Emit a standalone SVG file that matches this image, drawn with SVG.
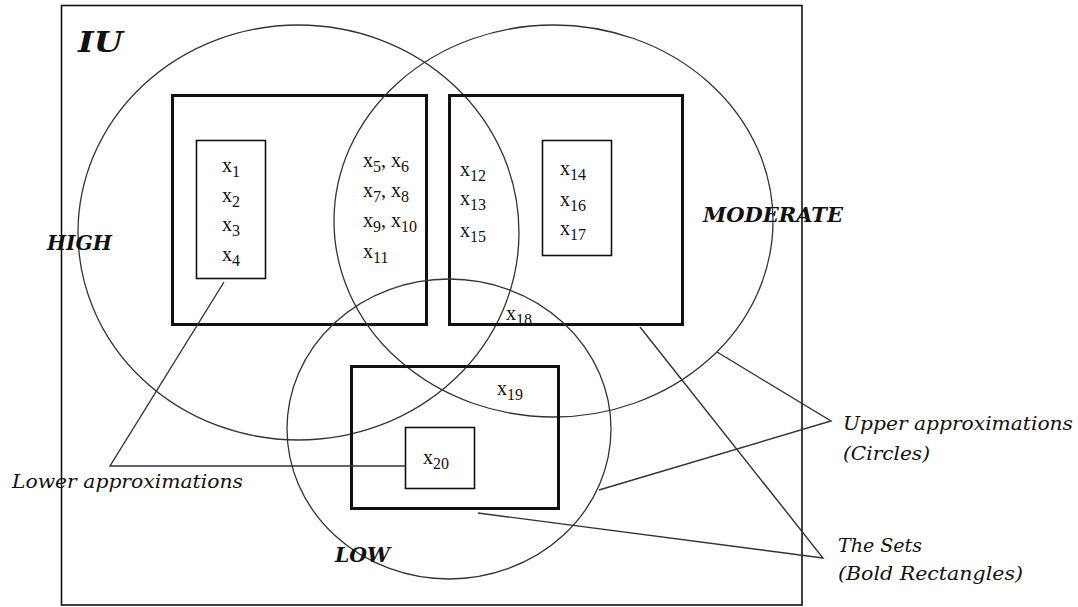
<svg xmlns="http://www.w3.org/2000/svg" width="1078" height="607" viewBox="0 0 1078 607">
<style>
  .bg { fill: #ffffff; }
  .universe { fill: none; stroke: #111; stroke-width: 1.6; }
  .upper { fill: none; stroke: #333; stroke-width: 1.3; }
  .set { fill: none; stroke: #111; stroke-width: 3; }
  .lower { fill: none; stroke: #111; stroke-width: 1.6; }
  .conn { fill: none; stroke: #333; stroke-width: 1.4; }
  .el { font-family: "Liberation Serif", "Times New Roman", serif; font-size: 20px; fill: #111; }
  .sub { font-size: 16px; }
  .big { font-family: "DejaVu Serif", "Liberation Serif", serif; font-weight: bold; font-style: italic; fill: #111; }
  .note { font-family: "DejaVu Serif", "Liberation Serif", serif; font-style: italic; font-size: 19px; fill: #111; }
</style>
<rect class="bg" x="0" y="0" width="1078" height="607"/>

<g id="universe">
  <rect class="universe" x="61.5" y="5.5" width="740.5" height="599.5"/>
  <text class="big" x="78" y="52" font-size="28" textLength="45" lengthAdjust="spacingAndGlyphs">IU</text>
</g>

<g id="high">
  <ellipse class="upper" cx="298.5" cy="232.5" rx="220.5" ry="207.5"/>
  <rect class="set" x="172.5" y="95.5" width="254" height="229"/>
  <text class="big" x="47" y="250" font-size="20" textLength="65" lengthAdjust="spacingAndGlyphs">HIGH</text>
</g>

<g id="high-lower">
  <rect class="lower" x="196.5" y="140.5" width="69" height="138"/>
  <text class="el" x="222" y="172">x<tspan class="sub" dy="5">1</tspan></text>
  <text class="el" x="222" y="202">x<tspan class="sub" dy="5">2</tspan></text>
  <text class="el" x="222" y="231">x<tspan class="sub" dy="5">3</tspan></text>
  <text class="el" x="222" y="261">x<tspan class="sub" dy="5">4</tspan></text>
</g>

<g id="high-boundary">
  <text class="el" x="363" y="167">x<tspan class="sub" dy="5">5</tspan><tspan dy="-5">, x</tspan><tspan class="sub" dy="5">6</tspan></text>
  <text class="el" x="363" y="197">x<tspan class="sub" dy="5">7</tspan><tspan dy="-5">, x</tspan><tspan class="sub" dy="5">8</tspan></text>
  <text class="el" x="363" y="227">x<tspan class="sub" dy="5">9</tspan><tspan dy="-5">, x</tspan><tspan class="sub" dy="5">10</tspan></text>
  <text class="el" x="363" y="258">x<tspan class="sub" dy="5">11</tspan></text>
</g>

<g id="moderate">
  <ellipse class="upper" cx="553.5" cy="221" rx="219.5" ry="196"/>
  <rect class="set" x="449.5" y="95.5" width="233" height="229"/>
  <text class="big" x="703" y="222" font-size="21" textLength="140" lengthAdjust="spacingAndGlyphs">MODERATE</text>
</g>

<g id="moderate-lower">
  <rect class="lower" x="542.5" y="140.5" width="69" height="115"/>
  <text class="el" x="560" y="175">x<tspan class="sub" dy="5">14</tspan></text>
  <text class="el" x="560" y="206">x<tspan class="sub" dy="5">16</tspan></text>
  <text class="el" x="560" y="235">x<tspan class="sub" dy="5">17</tspan></text>
</g>

<g id="moderate-boundary">
  <text class="el" x="460" y="176">x<tspan class="sub" dy="5">12</tspan></text>
  <text class="el" x="460" y="205">x<tspan class="sub" dy="5">13</tspan></text>
  <text class="el" x="460" y="237">x<tspan class="sub" dy="5">15</tspan></text>
  <text class="el" x="506" y="320">x<tspan class="sub" dy="5">18</tspan></text>
</g>

<g id="low">
  <ellipse class="upper" cx="449" cy="429" rx="162" ry="150"/>
  <rect class="set" x="351.5" y="366.5" width="207" height="142"/>
  <text class="big" x="335" y="562" font-size="20" textLength="55" lengthAdjust="spacingAndGlyphs">LOW</text>
  <text class="el" x="497" y="395">x<tspan class="sub" dy="5">19</tspan></text>
</g>

<g id="low-lower">
  <rect class="lower" x="405.5" y="427.5" width="69" height="61"/>
  <text class="el" x="423" y="464">x<tspan class="sub" dy="5">20</tspan></text>
</g>

<g id="connectors">
  <polyline class="conn" points="224,282 110,466 405,466"/>
  <polyline class="conn" points="717,352 831,421 599,490"/>
  <polyline class="conn" points="640,327 823,558 478,513"/>
</g>

<g id="legend">
  <text class="note" x="12" y="488" textLength="231" lengthAdjust="spacingAndGlyphs">Lower approximations</text>
  <text class="note" x="843" y="430" textLength="230" lengthAdjust="spacingAndGlyphs">Upper approximations</text>
  <text class="note" x="843" y="460" textLength="87" lengthAdjust="spacingAndGlyphs">(Circles)</text>
  <text class="note" x="838" y="552" textLength="84" lengthAdjust="spacingAndGlyphs">The Sets</text>
  <text class="note" x="838" y="580" textLength="185" lengthAdjust="spacingAndGlyphs">(Bold Rectangles)</text>
</g>
</svg>
